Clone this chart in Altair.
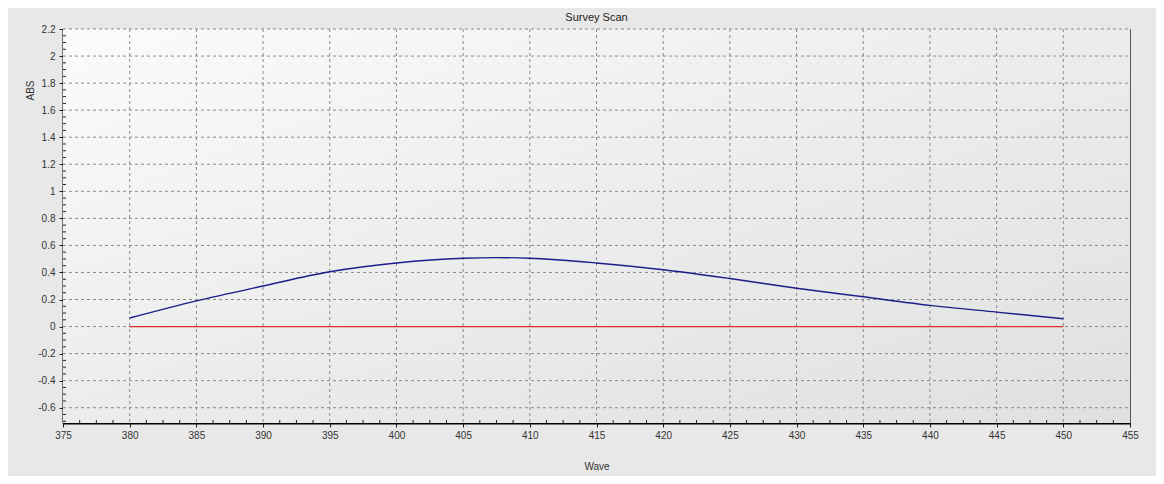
import altair as alt
import pandas as pd
import numpy as np

# ---- data ----
wave = [380, 385, 390, 395, 400, 405, 407.5, 410, 415, 420, 425, 430, 435, 440, 445, 450]
abs_blue = [0.063, 0.19, 0.30, 0.405, 0.47, 0.505, 0.51, 0.505, 0.47, 0.42, 0.355, 0.283, 0.22, 0.157, 0.107, 0.058]
red_wave = [380, 450]
red_abs = [0.0, 0.0]

x_major = [375, 380, 385, 390, 395, 400, 405, 410, 415, 420, 425, 430, 435, 440, 445, 450, 455]
y_major = [-0.6, -0.4, -0.2, 0, 0.2, 0.4, 0.6, 0.8, 1.0, 1.2, 1.4, 1.6, 1.8, 2.0, 2.2]
x_minor = [v for v in np.arange(375, 455.01, 1.25).round(2).tolist() if abs(v / 5 - round(v / 5)) > 1e-6]
y_minor = [v for v in np.arange(-0.7, 2.201, 0.05).round(2).tolist() if abs(v / 0.2 - round(v / 0.2)) > 1e-6]

W, H = 1067, 394
XD = [375, 455]
YD = [-0.713, 2.2]

blue_df = pd.DataFrame({"Wave": wave, "ABS": abs_blue})
red_df = pd.DataFrame({"Wave": red_wave, "ABS": red_abs})

xs = alt.Scale(domain=XD, nice=False, zero=False)
ys = alt.Scale(domain=YD, nice=False, zero=False)

ax_x = alt.Axis(title="Wave", values=x_major, grid=False, tickSize=4,
                labelPadding=3, titlePadding=21, format="d",
                labelOverlap=False, labelFlush=False)
ax_y = alt.Axis(title="ABS", values=y_major, grid=False, tickSize=4, labelPadding=4,
                labelOverlap=False, labelFlush=False,
                labelExpr="toString(round(datum.value*10)/10)",
                titleX=-33, titleY=61, titleAngle=-90, titleAlign="center",
                titleBaseline="middle")


def X(f):
    return alt.X(f, scale=xs, axis=ax_x, title="Wave")


def Y(f):
    return alt.Y(f, scale=ys, axis=ax_y, title="ABS")


bg = alt.Chart(pd.DataFrame({"a": [0]})).mark_rect(
    color=alt.LinearGradient(
        gradient="linear", x1=0, y1=0, x2=1, y2=1,
        stops=[alt.GradientStop(offset=0, color="#fbfbfb"),
               alt.GradientStop(offset=0.5, color="#ececec"),
               alt.GradientStop(offset=1, color="#e0e0e0")]),
).encode(x=alt.value(0), x2=alt.value(W), y=alt.value(0), y2=alt.value(H))

gx = alt.Chart(pd.DataFrame({"v": x_major[1:-1]})).mark_rule(
    color="#8a8a8a", strokeDash=[3, 3], strokeWidth=1
).encode(x=X("v:Q"), y=alt.value(0), y2=alt.value(H))

gy = alt.Chart(pd.DataFrame({"v": y_major})).mark_rule(
    color="#8a8a8a", strokeDash=[3, 3], strokeWidth=1
).encode(y=Y("v:Q"), x=alt.value(0), x2=alt.value(W))

mx = alt.Chart(pd.DataFrame({"v": x_minor})).mark_rule(
    color="#222", strokeWidth=1
).encode(x=X("v:Q"), y=alt.value(H), y2=alt.value(H - 3))

my = alt.Chart(pd.DataFrame({"v": y_minor})).mark_rule(
    color="#222", strokeWidth=1
).encode(y=Y("v:Q"), x=alt.value(0), x2=alt.value(3))

red = alt.Chart(red_df).mark_line(color="#d9302c", strokeWidth=1.3).encode(
    x=X("Wave:Q"), y=Y("ABS:Q"))

blue = alt.Chart(blue_df).mark_line(color="#1c1c8a", strokeWidth=1.4, interpolate="monotone").encode(
    x=X("Wave:Q"), y=Y("ABS:Q"))

chart = alt.layer(bg, gx, gy, mx, my, red, blue).properties(
    width=W, height=H,
    title=alt.TitleParams("Survey Scan", fontSize=11, font="Liberation Sans", fontWeight="normal",
                          color="#222", offset=1),
    autosize=alt.AutoSizeParams(type="none"),
    padding={"left": 55, "top": 21, "right": 26, "bottom": 53},
    background="#e8e8e8",
).configure_view(
    stroke="#555", strokeWidth=1
).configure_axis(
    domainColor="#000", domainWidth=2, tickColor="#222", tickWidth=1,
    labelFont="Liberation Sans", labelFontSize=10, labelColor="#333",
    titleFont="Liberation Sans", titleFontSize=10, titleColor="#333", titleFontWeight="normal",
    labelOverlap=False, zindex=1,
)

chart.save("out.html", embed_options={"renderer": "svg", "actions": False})
